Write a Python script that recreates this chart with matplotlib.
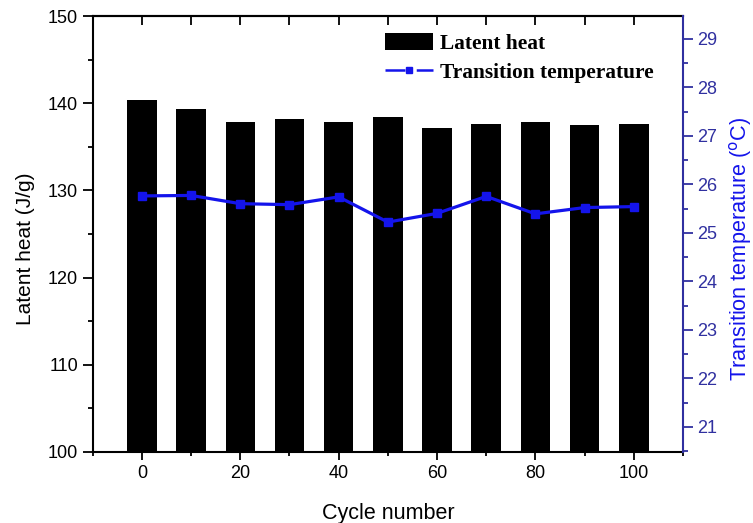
import numpy as np
import matplotlib.pyplot as plt
from matplotlib.ticker import MultipleLocator
from matplotlib.lines import Line2D
from matplotlib.legend_handler import HandlerTuple

plt.rcParams['font.family'] = ['Liberation Sans', 'DejaVu Sans']

# cycling test data
cycles = [0, 10, 20, 30, 40, 50, 60, 70, 80, 90, 100]
latent_heat = [140.4, 139.3, 137.8, 138.2, 137.8, 138.4, 137.2, 137.6, 137.8, 137.5, 137.65]
trans_temp = [25.76, 25.77, 25.60, 25.58, 25.74, 25.22, 25.40, 25.75, 25.39, 25.52, 25.54]

blue = '#1414eb'
axis_blue = '#3030a0'

fig = plt.figure(figsize=(7.53, 5.23), dpi=100)
ax = fig.add_axes([0.1231, 0.1358, 0.7839, 0.8336])
ax2 = ax.twinx()

bars = ax.bar(cycles, latent_heat, width=6, color='black', label='Latent heat')
line, = ax2.plot(cycles, trans_temp, color=blue, lw=2.3, marker='s', ms=6,
                 label='Transition temperature')

ax.set_xlim(-10, 110)
ax.set_ylim(100, 150)
ax2.set_ylim(20.48, 29.47)

ax.xaxis.set_major_locator(MultipleLocator(20))
ax.xaxis.set_minor_locator(MultipleLocator(10))
ax.yaxis.set_major_locator(MultipleLocator(10))
ax.yaxis.set_minor_locator(MultipleLocator(5))
ax2.yaxis.set_major_locator(MultipleLocator(1))
ax2.yaxis.set_minor_locator(MultipleLocator(0.5))

ax.tick_params(axis='x', which='both', direction='out', labelsize=13)
ax.tick_params(axis='x', which='major', length=6, width=1.3)
ax.tick_params(axis='x', which='minor', length=3, width=1.3)
ax.tick_params(axis='y', which='major', direction='out', length=7, width=1.3, labelsize=13)
ax.tick_params(axis='y', which='minor', direction='out', length=3.5, width=1.3)
ax2.tick_params(axis='y', which='major', direction='out', length=7, width=1.3,
                colors=axis_blue, labelsize=13)
ax2.tick_params(axis='y', which='minor', direction='out', length=3.5, width=1.3,
                colors=axis_blue)

for s in ['left', 'top', 'bottom']:
    ax.spines[s].set_linewidth(1.5)
ax.spines['right'].set_visible(False)
for s in ['left', 'top', 'bottom']:
    ax2.spines[s].set_visible(False)
ax2.spines['right'].set_color(axis_blue)
ax2.spines['right'].set_linewidth(1.5)

# inward ticks along the top edge, no labels
top = ax.secondary_xaxis('top')
top.xaxis.set_major_locator(MultipleLocator(20))
top.xaxis.set_minor_locator(MultipleLocator(10))
top.tick_params(axis='x', which='both', direction='in', labeltop=False,
                width=1.3, length=6.5)
top.spines['top'].set_linewidth(1.5)

ax.set_xlabel('Cycle number', fontsize=15.5, labelpad=15)
ax.set_ylabel('Latent heat (J/g)', fontsize=15)
ax.yaxis.set_label_coords(-0.097, 0.466)
ax2.set_ylabel('Transition temperature ($^{\\rm o}$C)', fontsize=15.6, color=blue)
ax2.yaxis.set_label_coords(1.074, 0.466)

# legend handle for the line: dashes either side of a small square
dash_line = Line2D([], [], color=blue, lw=1.8, dashes=(8, 4.5))
dash_mark = Line2D([], [], color=blue, ls='none', marker='s', ms=4.5)

ax2.legend([bars, (dash_line, dash_mark)], ['Latent heat', 'Transition temperature'],
           handler_map={tuple: HandlerTuple(ndivide=1)},
           loc='upper left', bbox_to_anchor=(385 / 753, (523 - 33) / 523),
           bbox_transform=fig.transFigure, frameon=False, borderpad=0,
           borderaxespad=0, handlelength=2.25, handleheight=0.85,
           handletextpad=0.3, labelspacing=0.4,
           prop={'family': 'Liberation Serif', 'weight': 'bold', 'size': 15.4})

fig.savefig('out.png', dpi=100)
